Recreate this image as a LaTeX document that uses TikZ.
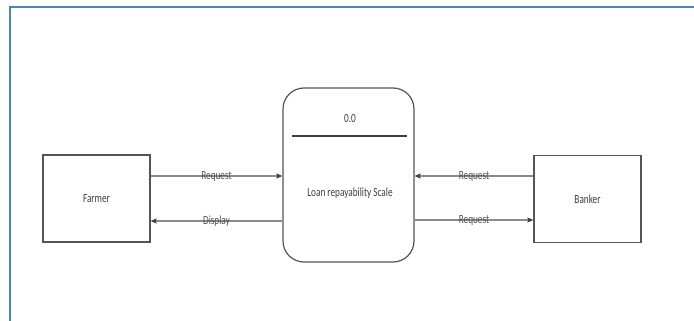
\documentclass[tikz,border=0pt]{standalone}
\usepackage{fontspec}
\usepackage{graphicx}
\setmainfont{Carlito}
\usetikzlibrary{arrows.meta}
\definecolor{frameblue}{HTML}{4F81BD}
\definecolor{inkgray}{HTML}{3F3F3F}
\definecolor{edgegray}{HTML}{555555}
\definecolor{flowgray}{HTML}{8A8A8A}
\newcommand{\narrowtext}[1]{\scalebox{0.74}[1]{#1}}
\tikzset{
  entity/.style={draw=edgegray, line width=1.2pt, fill=white,
    minimum width=107pt, minimum height=87pt, inner sep=0pt},
  process/.style={draw=edgegray, line width=1.2pt, fill=white,
    rounded corners=21pt, minimum width=131pt, minimum height=174pt, inner sep=0pt},
  txt/.style={text=inkgray, font=\fontsize{12.5}{14}\selectfont, inner sep=0pt},
  flowlabel/.style={text=inkgray!90, font=\fontsize{12.5}{14}\selectfont, inner sep=0pt},
  flow/.style={draw=flowgray, line width=1.6pt,
    -{Stealth[length=6pt,width=5pt,inset=1pt,color=inkgray]}},
}
\begin{document}
\begin{tikzpicture}[x=1pt,y=-1pt]
  \useasboundingbox (0,0) rectangle (694,321);
  % page frame: left and top edges
  \draw[frameblue, line width=2.6pt] (10,321) -- (10,7) -- (694,7);

  % external entities
  \node[entity] (farmer) at (96.5,198.5) {};
  \node[txt] (farmertxt) at (farmer.center) {\narrowtext{Farmer}};
  \node[entity] (banker) at (587.5,199) {};
  \node[txt] (bankertxt) at (banker.center) {\narrowtext{Banker}};

  % process
  \node[process] (proc) at (348.5,175) {};
  \node[txt] (procid) at (350,118) {\narrowtext{0.0}};
  \node[txt] (procname) at (350,193) {\narrowtext{Loan repayability Scale}};
  \draw[inkgray, line width=1.8pt] (292,136) -- (407,136);

  % data flows
  \draw[flow] (farmer.east |- 0,176) -- node[flowlabel] {\narrowtext{Request}} (proc.west |- 0,176);
  \draw[flow] (proc.west |- 0,221) -- node[flowlabel] {\narrowtext{Display}} (farmer.east |- 0,221);
  \draw[flow] (banker.west |- 0,176) -- node[flowlabel] {\narrowtext{Request}} (proc.east |- 0,176);
  \draw[flow] (proc.east |- 0,220) -- node[flowlabel] {\narrowtext{Request}} (banker.west |- 0,220);
\end{tikzpicture}
\end{document}
